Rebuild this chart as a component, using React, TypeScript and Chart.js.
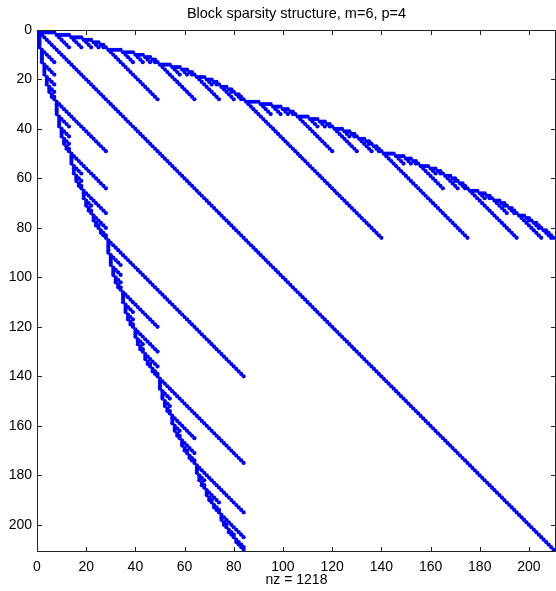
import React, { useEffect, useRef } from "react";
import { Chart, registerables } from "chart.js";

Chart.register(...registerables);

// Problem parameters (number of random variables m, polynomial order p)
const M_VARS = 6;
const P_ORDER = 4;
const TITLE_TEXT = "Block sparsity structure, m=6, p=4";
const AXIS_MIN = 0;
const TICK_STEP = 20;
const POINT_COLOR = "rgb(0,0,255)";
const FONT = "'Liberation Sans', Arial, Helvetica, sans-serif";

// Multi-indices in graded order, lexicographically descending inside each degree
function multiIndices(m: number, p: number): number[][] {
  const out: number[][] = [];
  for (let d = 0; d <= p; d++) {
    const rec = (prefix: number[], remaining: number, k: number) => {
      if (k === m - 1) {
        out.push([...prefix, remaining]);
        return;
      }
      for (let a = remaining; a >= 0; a--) rec([...prefix, a], remaining - a, k + 1);
    };
    rec([], d, 0);
  }
  return out;
}

// Sparsity pattern: diagonal plus pairs whose multi-indices differ by one in one variable
function sparsity(m: number, p: number) {
  const idx = multiIndices(m, p);
  const n = idx.length;
  const pts: { x: number; y: number }[] = [];
  for (let i = 0; i < n; i++) {
    for (let j = 0; j < n; j++) {
      let diff = 0;
      for (let k = 0; k < m; k++) diff += Math.abs(idx[i][k] - idx[j][k]);
      if (diff <= 1) pts.push({ x: j + 1, y: i + 1 });
    }
  }
  return { n, pts };
}

const framePlugin = {
  id: "frame",
  afterLayout(chart: any) {
    // centre the title over the plot area, as in the reference
    if (chart.titleBlock) chart.titleBlock.left = chart.chartArea.left;
  },
  afterDatasetsDraw(chart: any) {
    const { ctx, chartArea, scales } = chart;
    const { left, right, top, bottom } = chartArea;
    const x = scales.x;
    const y = scales.y;
    const L = 5;
    ctx.save();
    ctx.strokeStyle = "#222";
    ctx.lineWidth = 1;
    ctx.strokeRect(left + 0.5, top + 0.5, right - left - 1, bottom - top - 1);
    ctx.beginPath();
    x.ticks.forEach((t: any) => {
      const px = Math.round(x.getPixelForValue(t.value)) + 0.5;
      ctx.moveTo(px, bottom);
      ctx.lineTo(px, bottom - L);
      ctx.moveTo(px, top);
      ctx.lineTo(px, top + L);
    });
    y.ticks.forEach((t: any) => {
      const py = Math.round(y.getPixelForValue(t.value)) + 0.5;
      ctx.moveTo(left, py);
      ctx.lineTo(left + L, py);
      ctx.moveTo(right, py);
      ctx.lineTo(right - L, py);
    });
    ctx.stroke();
    ctx.restore();
  },
};

export default function App() {
  const ref = useRef<HTMLCanvasElement | null>(null);
  useEffect(() => {
    if (!ref.current) return;
    const { n, pts } = sparsity(M_VARS, P_ORDER);
    const axisMax = n + 1;
    const chart = new Chart(ref.current, {
      type: "scatter",
      data: {
        datasets: [
          {
            data: pts,
            backgroundColor: POINT_COLOR,
            borderColor: POINT_COLOR,
            pointRadius: 2.1,
            pointBorderWidth: 0,
            pointHoverRadius: 2.1,
            pointHoverBorderWidth: 0,
          },
        ],
      },
      options: {
        animation: false,
        responsive: false,
        layout: { padding: 0, autoPadding: false },
        plugins: {
          legend: { display: false },
          tooltip: { enabled: false },
          title: {
            display: true,
            text: TITLE_TEXT,
            color: "#000",
            font: { family: FONT, size: 14.5, weight: "normal", lineHeight: 1.2 },
            padding: { top: 5, bottom: 7.6 },
          },
        },
        scales: {
          x: {
            type: "linear",
            min: AXIS_MIN,
            max: axisMax,
            grid: { display: false, drawTicks: false, tickLength: 0 },
            border: { display: false },
            ticks: {
              stepSize: TICK_STEP,
              includeBounds: false,
              color: "#000",
              font: { family: FONT, size: 14 },
              padding: 7,
              maxRotation: 0,
            },
            title: {
              display: true,
              text: "nz = " + pts.length,
              color: "#000",
              font: { family: FONT, size: 14 },
              padding: { top: 0, bottom: 2.6 },
            },
            afterFit: (s: any) => {
              s.height = 39;
              s.paddingLeft = 0;
              s.paddingRight = 0;
            },
          },
          y: {
            type: "linear",
            reverse: true,
            min: AXIS_MIN,
            max: axisMax,
            grid: { display: false, drawTicks: false, tickLength: 0 },
            border: { display: false },
            ticks: {
              stepSize: TICK_STEP,
              includeBounds: false,
              color: "#000",
              font: { family: FONT, size: 14 },
              padding: 5,
            },
            afterFit: (s: any) => {
              s.width = 37;
              s.paddingTop = 0;
              s.paddingBottom = 0;
            },
          },
        },
      },
      plugins: [framePlugin],
    });
    return () => chart.destroy();
  }, []);
  return (
    <div style={{ position: "fixed", left: 0, top: 0, width: 556, height: 591, background: "#fff" }}>
      <canvas ref={ref} width={556} height={591} style={{ display: "block" }} />
    </div>
  );
}
